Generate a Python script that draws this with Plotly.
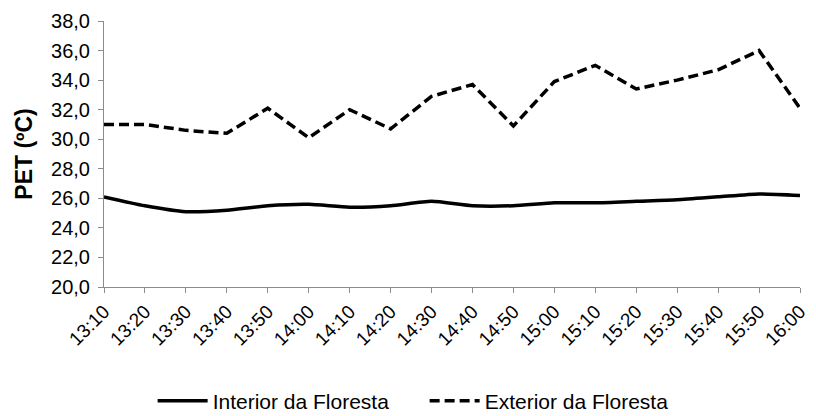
import plotly.graph_objects as go

times = ["13:10", "13:20", "13:30", "13:40", "13:50", "14:00", "14:10", "14:20", "14:30",
         "14:40", "14:50", "15:00", "15:10", "15:20", "15:30", "15:40", "15:50", "16:00"]
interior = [26.1, 25.5, 25.1, 25.2, 25.5, 25.6, 25.4, 25.5, 25.8,
            25.5, 25.5, 25.7, 25.7, 25.8, 25.9, 26.1, 26.3, 26.2]
exterior = [31.0, 31.0, 30.6, 30.4, 32.1, 30.1, 32.0, 30.7, 32.9,
            33.7, 30.9, 33.9, 35.0, 33.4, 34.0, 34.7, 36.0, 32.1]
y_ticks = [20, 22, 24, 26, 28, 30, 32, 34, 36, 38]
y_ticktext = [f"{v:.1f}".replace(".", ",") for v in y_ticks]

xi = list(range(len(times)))

fig = go.Figure()
fig.add_trace(go.Scatter(x=xi, y=interior, mode="lines", name="Interior da Floresta",
                         line=dict(color="black", width=3.5, shape="spline", smoothing=0.6)))
fig.add_trace(go.Scatter(x=xi, y=exterior, mode="lines", name="Exterior da Floresta",
                         line=dict(color="black", width=3.5, dash="10px,5px")))

font_family = "Liberation Sans, Arial, sans-serif"
fig.update_layout(
    width=808, height=408,
    margin=dict(l=96, r=16, t=13, b=129, autoexpand=False),
    paper_bgcolor="white", plot_bgcolor="white",
    font=dict(family=font_family, color="black", size=18),
    showlegend=True,
    legend=dict(orientation="h", xref="container", x=0.179, xanchor="left",
                yref="container", y=0.0368, yanchor="middle",
                font=dict(size=21), itemwidth=50, tracegroupgap=0,
                entrywidth=207, entrywidthmode="pixels"),
    xaxis=dict(range=[0, len(times) - 1], tickmode="array", tickvals=xi, ticktext=times,
               tickangle=-45, showgrid=False, zeroline=False, showline=True,
               linecolor="#8c8c8c", linewidth=1, ticks="outside", ticklen=5,
               tickcolor="#8c8c8c", tickfont=dict(size=19), automargin=False,
               ticklabeloverflow="allow"),
    yaxis=dict(range=[20, 38], tickmode="array", tickvals=y_ticks, ticktext=y_ticktext,
               showgrid=False, zeroline=False, showline=True, linecolor="#8c8c8c",
               linewidth=1, ticks="outside", ticklen=5, tickcolor="#8c8c8c",
               tickfont=dict(size=20), automargin=False, ticklabelstandoff=4,
               title=dict(text="<b>PET (ºC)</b>", font=dict(size=23), standoff=12)),
)

fig.write_html("out.html")
